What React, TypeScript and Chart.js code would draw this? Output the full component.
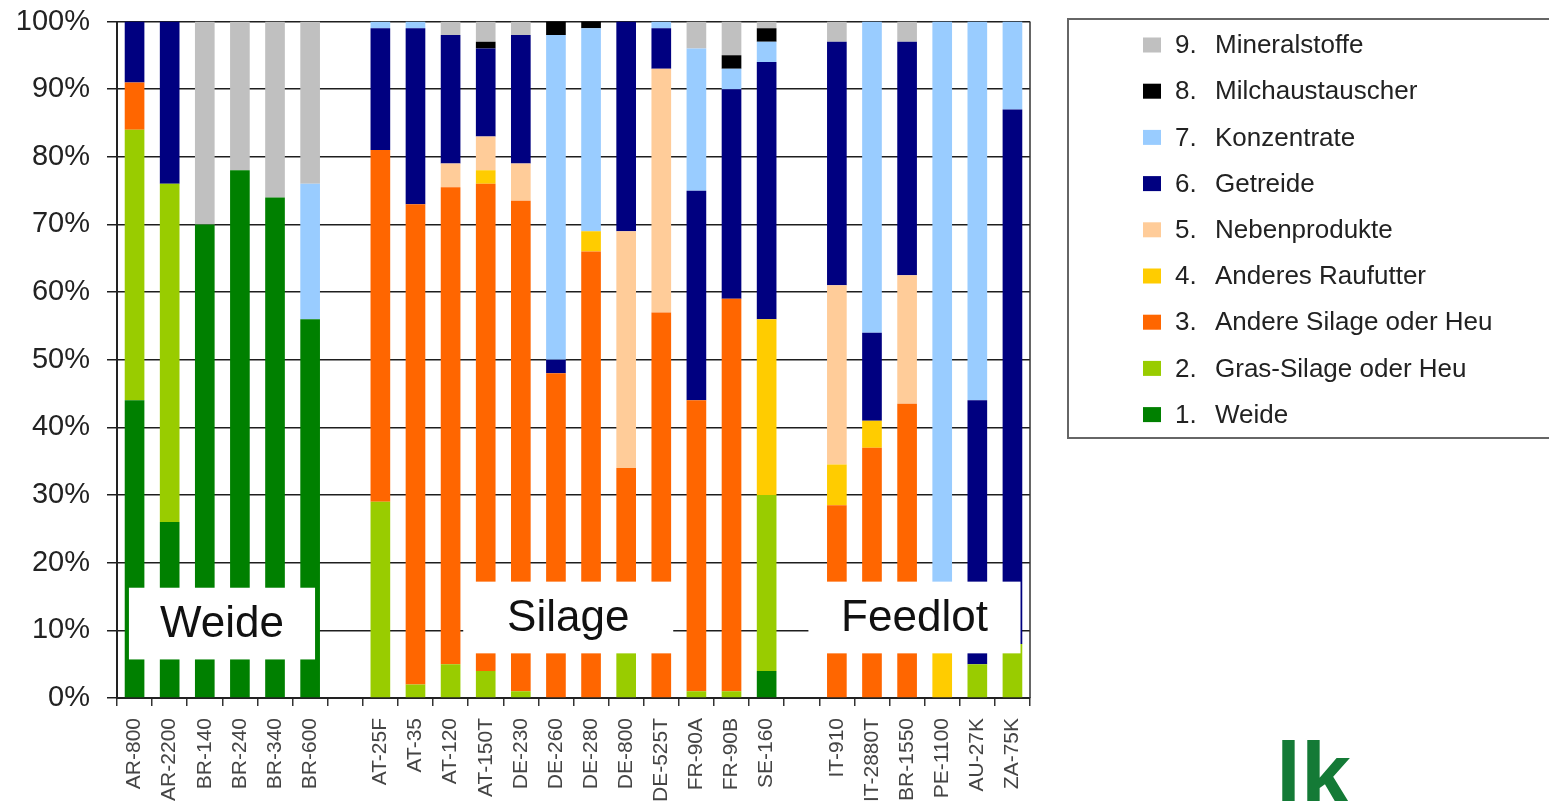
import React, { useEffect, useRef } from "react";
import { Chart, registerables } from "chart.js";

Chart.register(...registerables);

const categories = [
  "AR-800", "AR-2200", "BR-140", "BR-240", "BR-340", "BR-600", "",
  "AT-25F", "AT-35", "AT-120", "AT-150T", "DE-230", "DE-260", "DE-280", "DE-800", "DE-525T", "FR-90A", "FR-90B", "SE-160", "",
  "IT-910", "IT-2880T", "BR-1550", "PE-1100", "AU-27K", "ZA-75K",
];

const seriesNames = [
  "Weide",
  "Gras-Silage oder Heu",
  "Andere Silage oder Heu",
  "Anderes Raufutter",
  "Nebenprodukte",
  "Getreide",
  "Konzentrate",
  "Milchaustauscher",
  "Mineralstoffe",
];

const seriesColors = [
  "#008000", "#99CC00", "#FF6600", "#FFCC00", "#FFCC99",
  "#000080", "#99CCFF", "#000000", "#C0C0C0",
];

const weide = [44, 26, 70, 78, 74, 56, null, 0, 0, 0, 0, 0, 0, 0, 0, 0, 0, 0, 4, null, 0, 0, 0, 0, 0, 0];
const grasSilage = [40, 50, 0, 0, 0, 0, null, 29, 2, 5, 4, 1, 0, 0, 10, 0, 1, 1, 26, null, 0, 0, 0, 0, 5, 8];
const andereSilage = [7, 0, 0, 0, 0, 0, null, 52, 71, 70.5, 72, 72.5, 48, 66, 24, 57, 43, 58, 0, null, 28.5, 37, 43.5, 0, 0, 0];
const raufutter = [0, 0, 0, 0, 0, 0, null, 0, 0, 0, 2, 0, 0, 3, 0, 0, 0, 0, 26, null, 6, 4, 0, 10, 0, 0];
const nebenprodukte = [0, 0, 0, 0, 0, 0, null, 0, 0, 3.5, 5, 5.5, 0, 0, 35, 36, 0, 0, 0, null, 26.5, 0, 19, 0, 0, 0];
const getreide = [9, 24, 0, 0, 0, 0, null, 18, 26, 19, 13, 19, 2, 0, 31, 6, 31, 31, 38, null, 36, 13, 34.5, 0, 39, 79];
const konzentrate = [0, 0, 0, 0, 0, 20, null, 1, 1, 0, 0, 0, 48, 30, 0, 1, 21, 3, 3, null, 0, 46, 0, 90, 56, 13];
const milchaustauscher = [0, 0, 0, 0, 0, 0, null, 0, 0, 0, 1, 0, 2, 1, 0, 0, 0, 2, 2, null, 0, 0, 0, 0, 0, 0];
const mineralstoffe = [0, 0, 30, 22, 26, 24, null, 0, 0, 2, 3, 2, 0, 0, 0, 0, 4, 5, 1, null, 3, 0, 3, 0, 0, 0];

const seriesValues = [weide, grasSilage, andereSilage, raufutter, nebenprodukte, getreide, konzentrate, milchaustauscher, mineralstoffe];

const yTicks = [0, 10, 20, 30, 40, 50, 60, 70, 80, 90, 100];

const groupLabels = ["Weide", "Silage", "Feedlot"];

const FONT = '"Liberation Sans", Arial, sans-serif';

// annotation boxes in data coordinates (category index, percent)
const groupBoxes = [
  { x0: -0.16, x1: 5.14, y0: 5.7, y1: 16.3 },
  { x0: 9.36, x1: 15.34, y0: 6.6, y1: 17.2 },
  { x0: 19.19, x1: 25.23, y0: 6.6, y1: 17.2 },
];

const overlayPlugin = {
  id: "overlay",
  afterDatasetsDraw(chart: any) {
    const ctx = chart.ctx;
    const xs = chart.scales.x;
    const ys = chart.scales.y;
    const area = chart.chartArea;
    ctx.save();
    ctx.strokeStyle = "#333";
    ctx.lineWidth = 1.5;
    ctx.beginPath();
    ctx.moveTo(area.right, area.top);
    ctx.lineTo(area.right, area.bottom);
    ctx.stroke();
    groupBoxes.forEach((b, i) => {
      const l = xs.getPixelForValue(b.x0);
      const r = xs.getPixelForValue(b.x1);
      const t = ys.getPixelForValue(b.y1);
      const bt = ys.getPixelForValue(b.y0);
      ctx.fillStyle = "#ffffff";
      ctx.fillRect(l, t, r - l, bt - t);
      ctx.fillStyle = "#111";
      ctx.font = `44px ${FONT}`;
      ctx.textAlign = "center";
      ctx.textBaseline = "middle";
      ctx.fillText(groupLabels[i], (l + r) / 2, (t + bt) / 2 + 1);
    });
    ctx.restore();
  },
  afterDraw(chart: any) {
    const ctx = chart.ctx;
    ctx.save();
    ctx.strokeStyle = "#666";
    ctx.lineWidth = 2;
    ctx.strokeRect(1068, 19, 500, 419);
    const ds = chart.data.datasets;
    ctx.textBaseline = "middle";
    ctx.textAlign = "left";
    ctx.font = `26px ${FONT}`;
    for (let k = 0; k < ds.length; k++) {
      const idx = ds.length - 1 - k;
      const yc = 45 + k * 46.2;
      ctx.fillStyle = ds[idx].backgroundColor;
      ctx.fillRect(1143, yc - 7.5, 18, 15);
      ctx.fillStyle = "#222";
      ctx.fillText(`${idx + 1}.`, 1175, yc + 1);
      ctx.fillText(ds[idx].label, 1215, yc + 1);
    }
    ctx.fillStyle = "#147a36";
    ctx.font = `bold 90px ${FONT}`;
    ctx.textBaseline = "alphabetic";
    ctx.fillText("lk", 1276, 806);
    ctx.restore();
  },
};

export default function App() {
  const ref = useRef<HTMLCanvasElement | null>(null);
  useEffect(() => {
    document.body.style.margin = "0";
    const canvas = ref.current;
    if (!canvas) return;
    const chart = new Chart(canvas, {
      type: "bar",
      data: {
        labels: categories,
        datasets: seriesNames.map((name, i) => ({
          label: name,
          data: seriesValues[i],
          backgroundColor: seriesColors[i],
          borderWidth: 0,
          categoryPercentage: 1,
          barPercentage: 0.56,
        })),
      },
      options: {
        responsive: false,
        animation: false,
        layout: { padding: { left: 0, top: 21.5, right: 519, bottom: 0 } },
        plugins: { legend: { display: false }, tooltip: { enabled: false } },
        scales: {
          x: {
            stacked: true,
            grid: { display: true, drawOnChartArea: false, drawTicks: true, tickLength: 8, color: "#333", lineWidth: 1.5, offset: true },
            border: { display: true, color: "#222", width: 2 },
            ticks: {
              autoSkip: false,
              maxRotation: 90,
              minRotation: 90,
              padding: 12,
              color: "#444",
              font: { family: FONT, size: 21 },
            },
            afterFit: (s: any) => { s.height = 103; s.paddingLeft = 0; s.paddingRight = 0; },
          },
          y: {
            stacked: true,
            min: 0,
            max: 100,
            afterBuildTicks: (s: any) => { s.ticks = yTicks.map((v) => ({ value: v })); },
            grid: { color: "#1e1e1e", lineWidth: 1.5, tickLength: 10 },
            border: { display: true, color: "#222", width: 2 },
            ticks: {
              padding: 17,
              color: "#222",
              font: { family: FONT, size: 29 },
              callback: (v: any) => `${v}%`,
            },
            afterFit: (s: any) => { s.width = 117; s.paddingTop = 0; s.paddingBottom = 0; },
          },
        },
      },
      plugins: [overlayPlugin],
    });
    return () => chart.destroy();
  }, []);
  return (
    <div style={{ width: 1549, height: 801, position: "relative", background: "#fff" }}>
      <canvas ref={ref} width={1549} height={801} style={{ display: "block" }} />
    </div>
  );
}
